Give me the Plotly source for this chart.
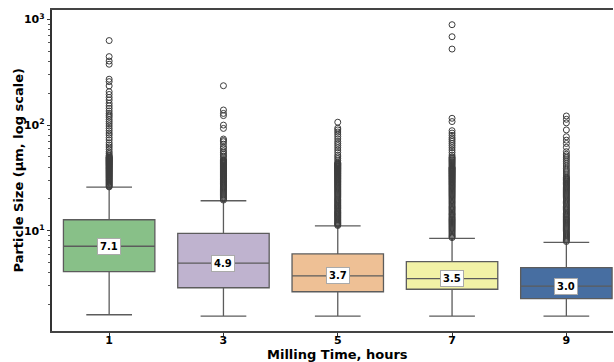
import math
import plotly.graph_objects as go

# ---- data ----
categories = ["1", "3", "5", "7", "9"]
q1 = [4.09, 2.88, 2.64, 2.79, 2.27]
medians = [7.12, 4.93, 3.74, 3.51, 2.99]
q3 = [12.7, 9.45, 6.02, 5.09, 4.46]
lower_whisker = [1.60, 1.55, 1.55, 1.55, 1.55]
upper_whisker = [25.8, 19.2, 11.1, 8.47, 7.76]

fill_colors = ["#88c088", "#bfb3cf", "#eec095", "#f2f2a6", "#476ea1"]

outliers_1 = [26, 26.5, 27, 27.5, 28, 28.5, 29, 29.5, 30, 30.5, 31, 31.5, 32,
              32.5, 33, 33.5, 34, 34.5, 35, 35.5, 36, 36.5, 37, 37.5, 38, 38.5,
              39, 39.5, 40, 40.5, 41, 41.5, 42, 42.5, 43, 43.5, 44, 44.5, 45,
              45.5, 46, 46.5, 47, 47.5, 48, 48.5, 49, 49.5, 50, 51, 52, 54, 56,
              59, 62, 64.8, 68, 72.3, 76, 80.5, 84, 88.5, 93, 98, 103, 108, 113,
              119, 124, 129, 136, 144, 152, 161, 173, 183, 195, 207, 235, 258,
              272, 377, 404, 445, 632]
outliers_3 = [19.5, 20, 20.5, 21, 21.5, 22, 22.5, 23, 23.5, 24, 24.5, 25, 25.5,
              26, 26.5, 27, 27.5, 28, 28.5, 29, 29.5, 30, 30.5, 31, 31.5, 32,
              32.5, 33, 33.5, 34, 34.5, 35, 35.5, 36, 36.5, 37, 37.5, 38, 38.5,
              39, 39.5, 40, 40.5, 41, 41.5, 42, 42.5, 43, 43.5, 44, 44.5, 45,
              45.5, 46, 46.5, 47, 49.5, 51, 53, 55, 57, 60, 62, 66, 69.6, 71.5,
              73.8, 93, 100, 123, 129, 139, 236]
outliers_5 = [11.2, 11.4, 11.6, 11.8, 12, 12.25, 12.5, 12.75, 13, 13.25, 13.5,
              13.75, 14, 14.25, 14.5, 14.75, 15, 15.3, 15.6, 16, 16.3, 16.6, 17,
              17.3, 17.6, 18, 18.4, 18.8, 19.2, 19.6, 20, 20.5, 21, 21.5, 22,
              22.5, 23, 23.5, 24, 24.5, 25, 25.5, 26, 26.5, 27, 27.5, 28, 28.5,
              29, 29.5, 30, 30.5, 31, 31.5, 32, 32.5, 33, 33.5, 34, 34.5, 35,
              35.5, 36, 36.5, 37, 37.5, 38, 38.5, 39, 39.5, 40, 40.5, 41, 41.5,
              42, 42.5, 43, 43.5, 44, 46, 48, 50, 52, 55, 58, 61, 64, 67, 70,
              74, 78, 82, 86, 90, 93.6, 106.5]
outliers_7 = [8.6, 8.8, 9, 9.25, 9.5, 9.75, 10, 10.25, 10.5, 10.75, 11, 11.25,
              11.5, 11.75, 12, 12.25, 12.5, 12.75, 13, 13.3, 13.6, 14, 14.3,
              14.6, 15, 15.4, 15.8, 16.2, 16.6, 17, 17.5, 18, 18.5, 19, 19.5,
              20, 20.5, 21, 21.5, 22, 22.5, 23, 23.5, 24, 24.5, 25, 25.5, 26,
              26.5, 27, 27.5, 28, 28.5, 29, 29.5, 30, 30.5, 31, 31.5, 32, 32.5,
              33, 33.5, 34, 34.5, 35, 35.5, 36, 36.5, 37, 37.5, 38, 38.5, 39,
              39.5, 40, 41, 42, 43, 44, 45, 46, 47, 48, 49, 50, 52, 55, 58, 61,
              64, 67, 70, 73, 76, 80, 84, 88.5, 108, 116, 525, 687, 893]
outliers_9 = [7.9, 8.1, 8.3, 8.5, 8.7, 8.9, 9.1, 9.3, 9.5, 9.75, 10, 10.25,
              10.5, 10.75, 11, 11.25, 11.5, 11.75, 12, 12.25, 12.5, 12.75, 13,
              13.3, 13.6, 14, 14.3, 14.6, 15, 15.4, 15.8, 16.2, 16.6, 17, 17.5,
              18, 18.5, 19, 19.5, 20, 20.5, 21, 21.5, 22, 22.5, 23, 23.5, 24,
              24.5, 25, 25.5, 26, 26.5, 27, 27.5, 28, 28.5, 29, 29.5, 30, 30.5,
              31, 31.5, 32, 33, 34.5, 36, 37.5, 39, 41, 43, 45, 47, 49, 51, 53,
              56, 61.6, 67, 72, 77.6, 90, 105, 113.5, 122]
outliers = [outliers_1, outliers_3, outliers_5, outliers_7, outliers_9]

y_major_vals = [10, 100, 1000]
y_major_text = ["10<sup>1</sup>", "10<sup>2</sup>", "10<sup>3</sup>"]
y_minor_vals = [2, 3, 4, 5, 6, 7, 8, 9, 20, 30, 40, 50, 60, 70, 80, 90,
                200, 300, 400, 500, 600, 700, 800, 900]

x_title = "Milling Time, hours"
y_title = "Particle Size (μm, log scale)"

# ---- figure ----
LINE = "#5c5c5c"
FONT = "DejaVu Sans"
positions = list(range(len(categories)))

fig = go.Figure()
for i in positions:
    fig.add_trace(go.Box(
        x=[i], q1=[q1[i]], median=[medians[i]], q3=[q3[i]],
        lowerfence=[lower_whisker[i]], upperfence=[upper_whisker[i]],
        fillcolor=fill_colors[i], line=dict(color=LINE, width=1.3),
        width=0.8, whiskerwidth=0.5, boxpoints=False, showlegend=False,
        hoverinfo="skip",
    ))
for i in positions:
    fig.add_trace(go.Scatter(
        x=[i] * len(outliers[i]), y=outliers[i], mode="markers",
        marker=dict(symbol="circle-open", size=6, color="#3d3d3d",
                    line=dict(width=1, color="#3d3d3d")),
        showlegend=False, hoverinfo="skip",
    ))

for i in positions:
    fig.add_annotation(
        x=i, y=math.log10(medians[i]), xref="x", yref="y",
        text=f"{medians[i]:.1f}", showarrow=False,
        font=dict(family=FONT, size=10, color="black", weight="bold"),
        bgcolor="white", bordercolor="#aaaaaa", borderwidth=1, borderpad=2,
    )

fig.add_annotation(
    x=2, y=0, xref="x", yref="paper", yshift=-33, yanchor="bottom",
    text=x_title, showarrow=False,
    font=dict(family=FONT, size=13, color="black", weight="bold"),
)
fig.add_annotation(
    x=0, y=0.5, xref="paper", yref="paper", xanchor="center", xshift=18 - 52,
    yanchor="middle", text=y_title, showarrow=False, textangle=-90,
    font=dict(family=FONT, size=13, color="black", weight="bold"),
)

fig.update_layout(
    width=614, height=362,
    margin=dict(l=52, r=1, t=10, b=31),
    paper_bgcolor="white", plot_bgcolor="white",
    boxmode="overlay",
    font=dict(family=FONT, color="black"),
    xaxis=dict(
        range=[-0.5, 4.408], tickmode="array", tickvals=positions,
        ticktext=categories, ticks="outside", ticklen=3.5, tickwidth=1,
        tickcolor="#333", showline=True, linecolor="#444", linewidth=1.8,
        mirror=True, showgrid=False, zeroline=False, ticklabelstandoff=-6,
        tickfont=dict(family=FONT, size=11, color="black", weight="bold"),
    ),
    yaxis=dict(
        type="log", range=[0.05, 3.09], tickmode="array",
        tickvals=y_major_vals, ticktext=y_major_text,
        ticks="outside", ticklen=3.5, tickwidth=1, tickcolor="#333",
        minor=dict(tickmode="array", tickvals=y_minor_vals, ticks="outside",
                   ticklen=2, tickwidth=0.8, tickcolor="#555", showgrid=False),
        showline=True, linecolor="#333", linewidth=1.5,
        showgrid=False, zeroline=False,
        tickfont=dict(family=FONT, size=11, color="black", weight="bold"),
    ),
)

fig.write_html("out.html")
